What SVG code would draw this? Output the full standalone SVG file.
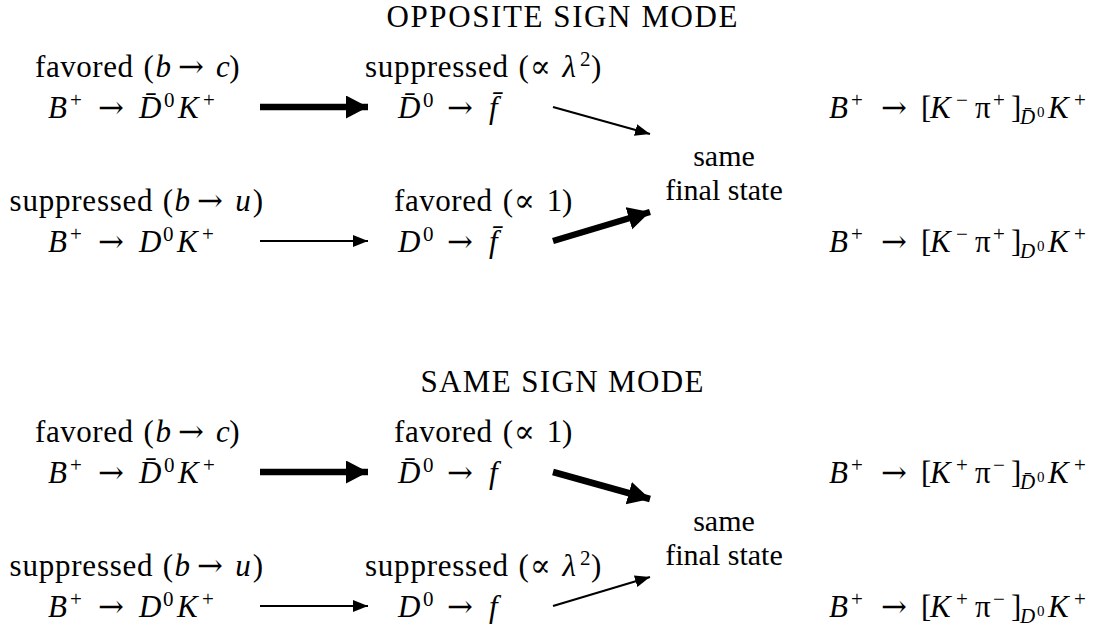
<svg xmlns="http://www.w3.org/2000/svg" width="1103" height="633" viewBox="0 0 1103 633">
<style>
text{font-family:"Liberation Serif","Times New Roman",serif;font-size:31px;fill:#000}
.i{font-style:italic}
.sup{font-size:21px;font-style:normal}
.sub{font-size:21px;font-style:italic}
.sub2{font-size:15px;font-style:normal}
.a{font-family:"DejaVu Serif",serif;font-size:31px;font-style:normal}
.c{text-anchor:middle}
.fs{font-size:30px}
.thin{stroke:#000;stroke-width:2.2;fill:none}
.thick{stroke:#000;stroke-width:6.5;fill:none}
</style>
<defs>
<marker id="hs" markerUnits="userSpaceOnUse" markerWidth="18" markerHeight="14" refX="15" refY="6" orient="auto"><path d="M0,0 L15,6 L0,12 Z" fill="#000"/></marker>
<marker id="hb" markerUnits="userSpaceOnUse" markerWidth="26" markerHeight="26" refX="22" refY="11.5" orient="auto"><path d="M0,0 L22,11.5 L0,23 Z" fill="#000"/></marker>
</defs>

<text id="title1" class="c" x="562" y="27" textLength="351" lengthAdjust="spacing">OPPOSITE SIGN MODE</text>

<g id="n1a">
<text x="35" y="77" textLength="98" lengthAdjust="spacing">favored</text>
<text y="77"><tspan x="143.6">(</tspan><tspan x="155.5" class="i">b</tspan><tspan x="178" class="a">→</tspan><tspan x="216" class="i">c</tspan><tspan x="229.3">)</tspan></text>
<text y="118"><tspan x="48" class="i">B</tspan><tspan x="70" y="107" class="sup">+</tspan><tspan x="98" y="118" class="a">→</tspan><tspan x="139" class="i">D̄</tspan><tspan x="164" y="107" class="sup">0</tspan><tspan x="178" y="118" class="i">K</tspan><tspan x="203" y="107" class="sup">+</tspan></text>
</g>
<g id="n1b">
<text x="9.6" y="211" textLength="143" lengthAdjust="spacing">suppressed</text>
<text y="211"><tspan x="162.7">(</tspan><tspan x="174.6" class="i">b</tspan><tspan x="197" class="a">→</tspan><tspan x="235.2" class="i">u</tspan><tspan x="252.7">)</tspan></text>
<text y="252"><tspan x="48" class="i">B</tspan><tspan x="70" y="241" class="sup">+</tspan><tspan x="98" y="252" class="a">→</tspan><tspan x="139" class="i">D</tspan><tspan x="163" y="241" class="sup">0</tspan><tspan x="177" y="252" class="i">K</tspan><tspan x="202" y="241" class="sup">+</tspan></text>
</g>
<g id="n1c">
<text x="365" y="77" textLength="143" lengthAdjust="spacing">suppressed</text>
<text y="77"><tspan x="518.4">(</tspan><tspan x="530" class="a">∝</tspan><tspan x="562.5" class="i">λ</tspan><tspan x="580" y="66" class="sup">2</tspan><tspan x="591" y="77">)</tspan></text>
<text y="118"><tspan x="398" class="i">D̄</tspan><tspan x="423" y="107" class="sup">0</tspan><tspan x="447" y="118" class="a">→</tspan><tspan x="489" class="i">f̄</tspan></text>
</g>
<g id="n1d">
<text x="394" y="211" textLength="98" lengthAdjust="spacing">favored</text>
<text y="211"><tspan x="502.7">(</tspan><tspan x="514" class="a">∝</tspan><tspan x="546.8">1</tspan><tspan x="562">)</tspan></text>
<text y="252"><tspan x="398" class="i">D</tspan><tspan x="423" y="241" class="sup">0</tspan><tspan x="447" y="252" class="a">→</tspan><tspan x="489" class="i">f̄</tspan></text>
</g>
<g id="n1e">
<text class="c fs" x="724" y="166">same</text>
<text class="c fs" x="724" y="200">final state</text>
</g>
<g id="n1f">
<text y="118"><tspan x="829" class="i">B</tspan><tspan x="851" y="107" class="sup">+</tspan><tspan x="881" y="118" class="a">→</tspan><tspan x="921">[</tspan><tspan x="930" class="i">K</tspan><tspan x="956" y="107" class="sup">−</tspan><tspan x="975" y="118">π</tspan><tspan x="993" y="107" class="sup">+</tspan><tspan x="1011" y="118">]</tspan><tspan x="1020" y="124" class="sub">D̄</tspan><tspan x="1037" y="117" class="sub2">0</tspan><tspan x="1048" y="118" class="i">K</tspan><tspan x="1074" y="107" class="sup">+</tspan></text>
</g>
<g id="n1g">
<text y="252"><tspan x="829" class="i">B</tspan><tspan x="851" y="241" class="sup">+</tspan><tspan x="881" y="252" class="a">→</tspan><tspan x="921">[</tspan><tspan x="930" class="i">K</tspan><tspan x="956" y="241" class="sup">−</tspan><tspan x="975" y="252">π</tspan><tspan x="993" y="241" class="sup">+</tspan><tspan x="1011" y="252">]</tspan><tspan x="1020" y="258" class="sub">D</tspan><tspan x="1037" y="251" class="sub2">0</tspan><tspan x="1048" y="252" class="i">K</tspan><tspan x="1074" y="241" class="sup">+</tspan></text>
</g>

<text id="title2" class="c" x="562" y="392" textLength="283" lengthAdjust="spacing">SAME SIGN MODE</text>

<g id="n2a">
<text x="35" y="442" textLength="98" lengthAdjust="spacing">favored</text>
<text y="442"><tspan x="143.6">(</tspan><tspan x="155.5" class="i">b</tspan><tspan x="178" class="a">→</tspan><tspan x="216" class="i">c</tspan><tspan x="229.3">)</tspan></text>
<text y="483"><tspan x="48" class="i">B</tspan><tspan x="70" y="472" class="sup">+</tspan><tspan x="98" y="483" class="a">→</tspan><tspan x="139" class="i">D̄</tspan><tspan x="164" y="472" class="sup">0</tspan><tspan x="178" y="483" class="i">K</tspan><tspan x="203" y="472" class="sup">+</tspan></text>
</g>
<g id="n2b">
<text x="9.6" y="576" textLength="143" lengthAdjust="spacing">suppressed</text>
<text y="576"><tspan x="162.7">(</tspan><tspan x="174.6" class="i">b</tspan><tspan x="197" class="a">→</tspan><tspan x="235.2" class="i">u</tspan><tspan x="252.7">)</tspan></text>
<text y="617"><tspan x="48" class="i">B</tspan><tspan x="70" y="606" class="sup">+</tspan><tspan x="98" y="617" class="a">→</tspan><tspan x="139" class="i">D</tspan><tspan x="163" y="606" class="sup">0</tspan><tspan x="177" y="617" class="i">K</tspan><tspan x="202" y="606" class="sup">+</tspan></text>
</g>
<g id="n2c">
<text x="394" y="442" textLength="98" lengthAdjust="spacing">favored</text>
<text y="442"><tspan x="502.7">(</tspan><tspan x="514" class="a">∝</tspan><tspan x="546.8">1</tspan><tspan x="562">)</tspan></text>
<text y="483"><tspan x="398" class="i">D̄</tspan><tspan x="423" y="472" class="sup">0</tspan><tspan x="447" y="483" class="a">→</tspan><tspan x="489" class="i">f</tspan></text>
</g>
<g id="n2d">
<text x="365" y="576" textLength="143" lengthAdjust="spacing">suppressed</text>
<text y="576"><tspan x="518.4">(</tspan><tspan x="530" class="a">∝</tspan><tspan x="562.5" class="i">λ</tspan><tspan x="580" y="565" class="sup">2</tspan><tspan x="591" y="576">)</tspan></text>
<text y="617"><tspan x="398" class="i">D</tspan><tspan x="423" y="606" class="sup">0</tspan><tspan x="447" y="617" class="a">→</tspan><tspan x="489" class="i">f</tspan></text>
</g>
<g id="n2e">
<text class="c fs" x="724" y="531">same</text>
<text class="c fs" x="724" y="565">final state</text>
</g>
<g id="n2f">
<text y="483"><tspan x="829" class="i">B</tspan><tspan x="851" y="472" class="sup">+</tspan><tspan x="881" y="483" class="a">→</tspan><tspan x="921">[</tspan><tspan x="930" class="i">K</tspan><tspan x="956" y="472" class="sup">+</tspan><tspan x="975" y="483">π</tspan><tspan x="993" y="472" class="sup">−</tspan><tspan x="1011" y="483">]</tspan><tspan x="1020" y="489" class="sub">D̄</tspan><tspan x="1037" y="482" class="sub2">0</tspan><tspan x="1048" y="483" class="i">K</tspan><tspan x="1074" y="472" class="sup">+</tspan></text>
</g>
<g id="n2g">
<text y="617"><tspan x="829" class="i">B</tspan><tspan x="851" y="606" class="sup">+</tspan><tspan x="881" y="617" class="a">→</tspan><tspan x="921">[</tspan><tspan x="930" class="i">K</tspan><tspan x="956" y="606" class="sup">+</tspan><tspan x="975" y="617">π</tspan><tspan x="993" y="606" class="sup">−</tspan><tspan x="1011" y="617">]</tspan><tspan x="1020" y="623" class="sub">D</tspan><tspan x="1037" y="616" class="sub2">0</tspan><tspan x="1048" y="617" class="i">K</tspan><tspan x="1074" y="606" class="sup">+</tspan></text>
</g>

<g id="connectors">
<line class="thick" x1="260" y1="107" x2="368" y2="107" marker-end="url(#hb)"/>
<line class="thin" x1="260" y1="241" x2="368" y2="241" marker-end="url(#hs)"/>
<line class="thin" x1="553" y1="107" x2="650" y2="134" marker-end="url(#hs)"/>
<line class="thick" x1="553" y1="241" x2="650" y2="212" marker-end="url(#hb)"/>
<line class="thick" x1="260" y1="472" x2="368" y2="472" marker-end="url(#hb)"/>
<line class="thin" x1="260" y1="606" x2="368" y2="606" marker-end="url(#hs)"/>
<line class="thick" x1="553" y1="472" x2="650" y2="499" marker-end="url(#hb)"/>
<line class="thin" x1="553" y1="606" x2="650" y2="577" marker-end="url(#hs)"/>
</g>
</svg>
